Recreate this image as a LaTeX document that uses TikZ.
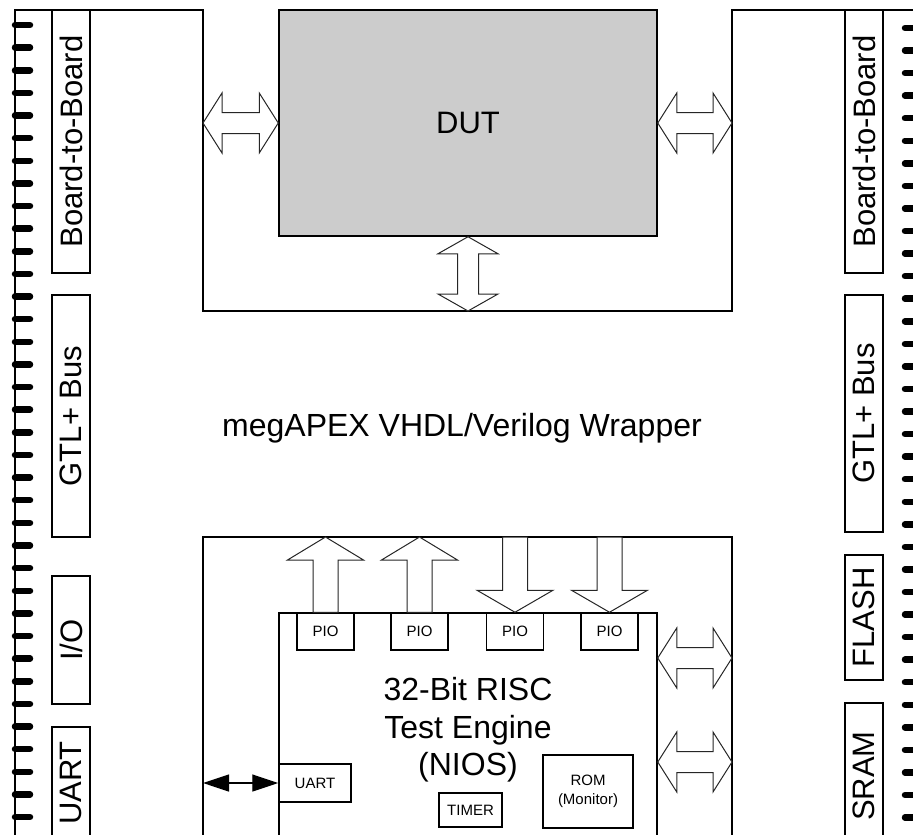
\documentclass[tikz,border=0pt]{standalone}
\usepackage{fontspec}
\setmainfont{Liberation Sans}
\usetikzlibrary{positioning,calc,arrows.meta}

\newcommand{\bigtxt}{\fontsize{32}{37.5}\selectfont}
\newcommand{\sidetxt}{\fontsize{31}{36}\selectfont}
\newcommand{\smalltxt}{\fontsize{15}{19}\selectfont}

% hollow bus arrows between two anchors
\newcommand{\hbus}[2]{%
  \draw[bus] (#1) -- ++(19,-30) -- ++(0,19.5) -- ($(#2)+(-19,-10.5)$) -- ++(0,-19.5) -- (#2)
    -- ++(-19,30) -- ++(0,-19.5) -- ($(#1)+(19,10.5)$) -- ++(0,19.5) -- cycle;}
\newcommand{\vbus}[2]{%
  \draw[bus] (#1) -- ++(-30,17) -- ++(19.5,0) -- ($(#2)+(-10.5,-17)$) -- ++(-19.5,0) -- (#2)
    -- ++(30,-17) -- ++(-19.5,0) -- ($(#1)+(10.5,17)$) -- ++(19.5,0) -- cycle;}
\newcommand{\pbus}[3]{%
  \draw[bus] (#2) -- ++(38,#3) -- ++(-25.5,0) -- ($(#1)+(12.5,0)$) -- ++(-25,0)
    -- ($(#2)+(-12.5,#3)$) -- ++(-25.5,0) -- cycle;}

\tikzset{
  wire/.style={line width=2pt},
  box/.style={draw, line width=1.5pt, inner sep=0pt},
  side/.style={box, rotate=90, minimum height=38, font=\sidetxt},
  piobox/.style={box, minimum width=57, minimum height=37, font=\smalltxt},
  bus/.style={draw=black!85, fill=white, line width=1pt, line join=miter},
  pin/.style={line width=6.5pt, line cap=round},
  ctl/.style={{Triangle[length=26pt,width=17pt]}-{Triangle[length=26pt,width=17pt]}, line width=1.3pt}
}

\begin{document}
\begin{tikzpicture}[x=1pt, y=-1pt]
  \useasboundingbox (0,0) rectangle (913,835);
  \clip (0,0) rectangle (913,835);

  % connector pins
  \foreach \k in {0,...,35} {
    \draw[pin] (15,25+22.63*\k) -- (30,25+22.63*\k);
    \draw[pin] (905,28+22.56*\k) -- (925,28+22.56*\k);
  }

  % wrapper outline
  \draw[wire] (15,845) -- (15,10) -- (203,10) -- (203,311) -- (732,311) -- (732,10) -- (925,10);
  \draw[wire] (203,845) -- (203,537) -- (732,537) -- (732,845);

  % edge connectors
  \node[side, minimum width=263] (lbb) at (71,141.5) {Board-to-Board};
  \node[side, minimum width=242] (lgtl) at (71,416) {GTL+ Bus};
  \node[side, minimum width=128] (lio) at (71,640) {I/O};
  \node[side, minimum width=112] (luart) at (71,783) {UART};
  \node[side, minimum width=263] (rbb) at (864,141.5) {Board-to-Board};
  \node[side, minimum width=237] (rgtl) at (864,413.5) {GTL+ Bus};
  \node[side, minimum width=125] (rflash) at (864,617.5) {FLASH};
  \node[side, minimum width=146] (rsram) at (864,776) {SRAM};

  % device under test
  \node[box, fill=black!20, minimum width=378, minimum height=226, font=\sidetxt] (dut) at (468,123) {DUT};
  \coordinate (wl) at (203,123);
  \coordinate (wr) at (732,123);
  \coordinate (wb) at (468,311);
  \hbus{wl}{dut.west}
  \hbus{dut.east}{wr}
  \vbus{dut.south}{wb}

  \node[font=\bigtxt] (wraptxt) at (462,428) {megAPEX VHDL/Verilog Wrapper};

  % test engine
  \node[box, minimum width=378, minimum height=240] (nios) at (468,733) {};
  \node[font=\bigtxt, align=center] (niostxt) at (468,730) {32-Bit RISC\\Test Engine\\(NIOS)};
  \node[piobox] (pio1) at (325.5,631.5) {PIO};
  \node[piobox] (pio2) at (419.5,631.5) {PIO};
  \node[piobox] (pio3) at (515,631.5) {PIO};
  \node[piobox] (pio4) at (609.5,631.5) {PIO};
  \node[box, minimum width=72, minimum height=38, font=\smalltxt] (uart) at (315,783) {UART};
  \node[box, minimum width=63, minimum height=34, font=\smalltxt] (timer) at (470.5,810) {TIMER};
  \node[box, minimum width=90, minimum height=73, font=\smalltxt, align=center] (rom) at (588,791.5) {ROM\\(Monitor)};

  \coordinate (wt) at (468,537);
  \pbus{pio1.north}{pio1.north |- wt}{23}
  \pbus{pio2.north}{pio2.north |- wt}{23}
  \pbus{pio3.north |- wt}{pio3.north}{-22}
  \pbus{pio4.north |- wt}{pio4.north}{-22}

  \coordinate (rb1) at (732,658);
  \coordinate (rb2) at (732,762);
  \hbus{nios.east |- rb1}{rb1}
  \hbus{nios.east |- rb2}{rb2}

  \coordinate (uw) at (203,783);
  \draw[ctl] (uw) -- (uart.west);
\end{tikzpicture}
\end{document}
